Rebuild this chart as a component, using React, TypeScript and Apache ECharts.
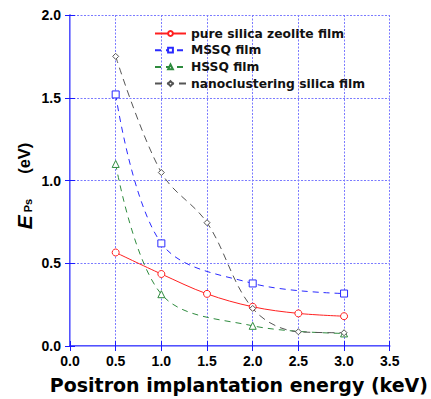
import React, { useEffect, useRef } from "react";
import * as echarts from "echarts";

const xTicks = [0, 0.5, 1.0, 1.5, 2.0, 2.5, 3.0, 3.5];
const yTicks = [0, 0.5, 1.0, 1.5, 2.0];

const seriesNames = [
  "pure silica zeolite film",
  "MSSQ film",
  "HSSQ film",
  "nanoclustering silica film",
];

const zeoliteX = [0.5, 1.0, 1.5, 2.0, 2.5, 3.0];
const zeoliteY = [0.565, 0.435, 0.315, 0.237, 0.197, 0.18];

const mssqX = [0.5, 1.0, 2.0, 3.0];
const mssqY = [1.52, 0.62, 0.378, 0.317];

const hssqX = [0.5, 1.0, 2.0, 3.0];
const hssqY = [1.1, 0.313, 0.122, 0.076];

const nanoX = [0.5, 1.0, 1.5, 2.0, 2.5, 3.0];
const nanoY = [1.75, 1.048, 0.745, 0.227, 0.086, 0.08];

const pairs = (xs: number[], ys: number[]) => xs.map((x, i) => [x, ys[i]]);

const FONT = "Liberation Sans";
const WIDE = "DejaVu Sans";

export default function App() {
  const ref = useRef<HTMLDivElement>(null);
  useEffect(() => {
    if (!ref.current) return;
    const chart = echarts.init(ref.current, undefined, { renderer: "svg" });
    const gridColor = "#7a7aff";
    const axisColor = "#1a1aff";
    const borderColor = "#9a9aff";
    const mkSeries = (
      name: string,
      data: number[][],
      color: string,
      symbol: string,
      size: number,
      type: any
    ) => ({
      name,
      type: "line",
      data,
      smooth: 0.35,
      symbol,
      symbolSize: size,
      showSymbol: true,
      lineStyle: { color, width: 1, type },
      itemStyle: { color: "#ffffff", borderColor: color, borderWidth: 1 },
      xAxisIndex: 0,
      yAxisIndex: 0,
      z: 3,
    });
    chart.setOption({
      animation: false,
      backgroundColor: "#ffffff",
      grid: { left: 70, top: 15, right: 27, bottom: 52, containLabel: false },
      legend: {
        left: 154,
        top: 26.5,
        padding: 0,
        orient: "vertical",
        itemWidth: 31,
        itemHeight: 6,
        itemGap: 2.7,
        textStyle: {
          fontFamily: WIDE,
          fontSize: 12.3,
          fontWeight: "bold",
          color: "#111",
          lineHeight: 14,
        },
        data: seriesNames,
      },
      xAxis: [
        {
          type: "value",
          min: 0,
          max: 3.5,
          interval: 0.5,
          position: "bottom",
          name: "Positron implantation energy (keV)",
          nameLocation: "middle",
          nameGap: 29,
          nameTextStyle: {
            fontFamily: WIDE,
            fontSize: 19,
            fontWeight: "bold",
            color: "#000",
            padding: [0, 0, 0, 18],
          },
          axisLine: { show: true, lineStyle: { color: axisColor, width: 1.5 } },
          axisTick: { show: true, inside: true, length: 5, lineStyle: { color: axisColor } },
          axisLabel: {
            fontFamily: FONT,
            fontSize: 14,
            fontWeight: "bold",
            color: "#000",
            margin: 8,
            formatter: (v: number) => v.toFixed(1),
          },
          splitLine: {
            show: true,
            lineStyle: { color: gridColor, type: [2, 1.5], width: 1 },
          },
        },
        {
          type: "value",
          min: 0,
          max: 3.5,
          interval: 0.5,
          position: "top",
          axisLine: { show: true, lineStyle: { color: borderColor, width: 1 } },
          axisTick: { show: true, inside: true, length: 5, lineStyle: { color: axisColor } },
          axisLabel: { show: false },
          splitLine: { show: false },
        },
      ],
      yAxis: [
        {
          type: "value",
          min: 0,
          max: 2.0,
          interval: 0.5,
          position: "left",
          axisLine: { show: true, lineStyle: { color: axisColor, width: 1.5 } },
          axisTick: { show: true, inside: true, length: 5, lineStyle: { color: axisColor } },
          axisLabel: {
            fontFamily: FONT,
            fontSize: 14,
            fontWeight: "bold",
            color: "#000",
            margin: 9,
            formatter: (v: number) => v.toFixed(1),
          },
          splitLine: {
            show: true,
            lineStyle: { color: gridColor, type: [2, 1.5], width: 1 },
          },
        },
        {
          type: "value",
          min: 0,
          max: 2.0,
          interval: 0.5,
          position: "right",
          axisLine: { show: true, lineStyle: { color: borderColor, width: 1 } },
          axisTick: { show: true, inside: true, length: 5, lineStyle: { color: axisColor } },
          axisLabel: { show: false },
          splitLine: { show: false },
        },
      ],
      graphic: [
        {
          type: "text",
          x: 24,
          y: 186,
          rotation: Math.PI / 2,
          style: {
            text: "{e|E}{s|Ps}{g|}{u|(eV)}",
            align: "center",
            verticalAlign: "middle",
            rich: {
              e: {
                fontFamily: FONT,
                fontSize: 21,
                fontWeight: "bold",
                fontStyle: "italic",
                fill: "#000",
                padding: [0, 3, 0, 0],
              },
              s: {
                fontFamily: FONT,
                fontSize: 11,
                fontWeight: "bold",
                fill: "#000",
                padding: [7, 0, 0, 0],
              },
              g: { width: 25 },
              u: {
                fontFamily: FONT,
                fontSize: 16.5,
                fontWeight: "bold",
                fill: "#000",
              },
            },
          },
        },
      ],
      series: [
        mkSeries(seriesNames[0], pairs(zeoliteX, zeoliteY), "#ff2020", "circle", 7, "solid"),
        mkSeries(seriesNames[1], pairs(mssqX, mssqY), "#2a2aff", "rect", 7, [6, 5]),
        mkSeries(seriesNames[2], pairs(hssqX, hssqY), "#2e8b3e", "triangle", 7, [6, 5]),
        mkSeries(seriesNames[3], pairs(nanoX, nanoY), "#555555", "diamond", 6, [7, 5]),
      ],
    });
    return () => chart.dispose();
  }, []);
  return (
    <div
      ref={ref}
      style={{ position: "absolute", left: 0, top: 0, width: 431, height: 399 }}
    />
  );
}
